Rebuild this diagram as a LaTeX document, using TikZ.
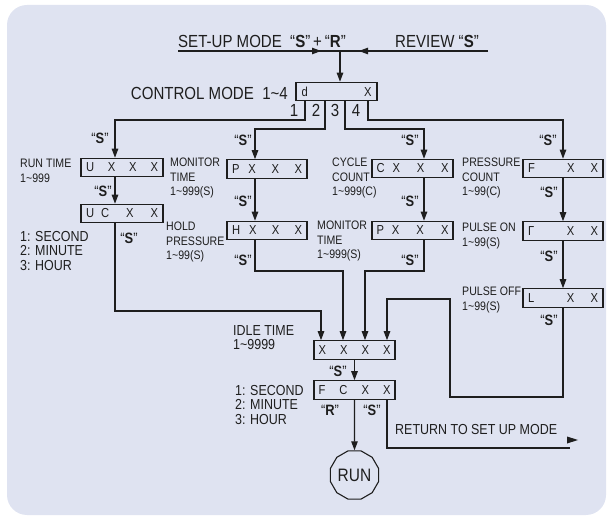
\documentclass[tikz,border=0pt]{standalone}
\usepackage{fontspec}
\setmainfont{Liberation Sans}[FakeStretch=0.86]
\usetikzlibrary{arrows.meta,shapes.geometric}
\definecolor{bg}{HTML}{DFE3F1}
\definecolor{ink}{HTML}{1E1E1E}
\newcommand\tld{\textasciitilde}
\newcommand\qS{“\textbf{S}”}
\newcommand\qR{“\textbf{R}”}
\tikzset{
  ln/.style={draw=ink, line width=1.1pt},
  arr/.style={ln, -{Triangle[length=9pt,width=6.5pt]}},
  disp/.style={draw=ink, line width=1.1pt, minimum width=81pt, minimum height=18.5pt, inner sep=0pt, font=\fontsize{13}{14}\selectfont, text=ink},
  lbl/.style={anchor=west, inner sep=0pt, align=left, font=\fontsize{12.3}{14.5}\selectfont, text=ink},
  mlbl/.style={anchor=west, inner sep=0pt, align=left, font=\fontsize{14.5}{14.8}\selectfont, text=ink},
  big/.style={inner sep=0pt, font=\fontsize{17.5}{19}\selectfont, text=ink},
  sk/.style={inner sep=0pt, font=\fontsize{15}{17}\selectfont, text=ink},
}
\begin{document}
\begin{tikzpicture}[x=1pt,y=-1pt]
\useasboundingbox (0,0) rectangle (608,521);
\fill[bg, rounded corners=20pt] (7,5) rectangle (606,515);

% top
\node[big, anchor=west] (setup) at (178,41) {SET-UP MODE\ \ \qS\,+\,\qR};
\node[big, anchor=west] (review) at (395,41) {REVIEW \qS};
\coordinate (tl) at (178,51);
\coordinate (tr) at (488,51);
\coordinate (tj) at (340,51);
\coordinate (ta) at (321,51);
\coordinate (tb) at (359,51);
\draw[ln] (tl) -- (tr);
\draw[arr] (tl) -- (ta);
\draw[arr] (tr) -- (tb);

% control box
\node[disp] (ctl) at (336.5,91.5) {\makebox[70pt]{d\hfill X}};
\node[big, anchor=east] (ctltxt) at (288,93) {CONTROL MODE\ \ 1\tld4};
\draw[arr] (tj) -- (ctl.north -| tj);
\node[big, font=\fontsize{17.5}{19}\selectfont] (n1) at (294,110) {1};
\node[big, font=\fontsize{17.5}{19}\selectfont] (n2) at (316,110) {2};
\node[big, font=\fontsize{17.5}{19}\selectfont] (n3) at (335,110) {3};
\node[big, font=\fontsize{17.5}{19}\selectfont] (n4) at (356,110) {4};

% boxes
\node[disp, minimum width=82pt] (ubox) at (122,167.5) {\makebox[72pt]{U\hfill X\hfill X\hfill X}};
\node[disp, minimum width=82pt] (ucbox) at (122,213.5) {\makebox[72pt]{U\hspace{7pt}C\hfill X\hfill X}};
\node[disp, minimum width=80pt] (pbox) at (267,169) {\makebox[70pt]{P\hspace{9pt}X\hfill X\hfill X}};
\node[disp, minimum width=80pt] (hbox) at (267,230.5) {\makebox[70pt]{H\hspace{9pt}X\hfill X\hfill X}};
\node[disp] (cbox) at (412.5,168.5) {\makebox[72pt]{C\hspace{8pt}X\hfill X\hfill X}};
\node[disp] (p2box) at (412.5,230.5) {\makebox[72pt]{P\hspace{8pt}X\hfill X\hfill X}};
\node[disp, minimum width=80pt] (fbox) at (563,168.5) {\makebox[70pt]{F\hfill\hfill X\hfill X}};
\node[disp, minimum width=80pt] (gbox) at (563,231) {\makebox[70pt]{Γ\hfill\hfill X\hfill X}};
\node[disp, minimum width=80pt] (lbox) at (563,298) {\makebox[70pt]{L\hfill\hfill X\hfill X}};
\node[disp] (idle) at (354.5,350) {\makebox[72pt]{X\hfill X\hfill X\hfill X}};
\node[disp] (fcbox) at (354.5,390) {\makebox[72pt]{F\hfill C\hfill X\hfill X}};
\node[draw=ink, line width=1.1pt, regular polygon, regular polygon sides=12, minimum size=50pt, inner sep=0pt, font=\fontsize{18}{20}\selectfont, text=ink] (run) at (354.5,475) {RUN};

% labels
\node[lbl] (lrun) at (20,171) {RUN TIME\\1\tld999};
\node[mlbl] (lunit1) at (20,251) {1: SECOND\\2: MINUTE\\3: HOUR};
\node[lbl] (lmon) at (170,178) {MONITOR\\TIME\\1\tld999(S)};
\node[lbl] (lhold) at (166,242) {HOLD\\PRESSURE\\1\tld99(S)};
\node[lbl] (lcyc) at (332,178) {CYCLE\\COUNT\\1\tld999(C)};
\node[lbl] (lmon2) at (317,241) {MONITOR\\TIME\\1\tld999(S)};
\node[lbl] (lpc) at (462,178) {PRESSURE\\COUNT\\1\tld99(C)};
\node[lbl] (lpon) at (462,236) {PULSE ON\\1\tld99(S)};
\node[lbl] (lpoff) at (462,300) {PULSE OFF\\1\tld99(S)};
\node[mlbl] (lidle) at (233,337.5) {IDLE TIME\\1\tld9999};
\node[mlbl] (lunit2) at (235,405) {1: SECOND\\2: MINUTE\\3: HOUR};
\node[mlbl, anchor=west] (lret) at (395,430) {RETURN TO SET UP MODE};

% "S" keys
\node[sk] (s1a) at (100,138) {\qS};
\node[sk] (s1b) at (103,191) {\qS};
\node[sk] (s1c) at (129,238) {\qS};
\node[sk] (s2a) at (243,140) {\qS};
\node[sk] (s2b) at (243,201) {\qS};
\node[sk] (s2c) at (243,260) {\qS};
\node[sk] (s3a) at (410,140) {\qS};
\node[sk] (s3b) at (410,201) {\qS};
\node[sk] (s3c) at (410,260) {\qS};
\node[sk] (s4a) at (548,140) {\qS};
\node[sk] (s4b) at (549,192) {\qS};
\node[sk] (s4c) at (549,256) {\qS};
\node[sk] (s4d) at (549,320) {\qS};
\node[sk] (s5) at (338,371) {\qS};
\node[sk] (kr) at (330,410) {\qR};
\node[sk] (ks) at (372,410) {\qS};

% corner coordinates
\coordinate (d1) at (305,120); \coordinate (c1) at (115,120);
\coordinate (d2) at (325,129); \coordinate (c2) at (255,129);
\coordinate (d3) at (345,129); \coordinate (c3) at (424,129);
\coordinate (d4) at (368,120); \coordinate (c4) at (563,120);
\coordinate (e1) at (115,311); \coordinate (i1) at (321,311);
\coordinate (e2) at (255,271); \coordinate (i2) at (343,271);
\coordinate (e3) at (424,271); \coordinate (i3) at (365,271);
\coordinate (e4) at (563,397); \coordinate (f4) at (450,397);
\coordinate (g4) at (450,299); \coordinate (i4) at (387,299);
\coordinate (r0) at (387,448); \coordinate (r1) at (570,448);

% column 1
\draw[arr] (ctl.south -| d1) -- (d1) -- (c1) -- (ubox.north -| c1);
\draw[arr] (ubox.south -| c1) -- (ucbox.north -| c1);
\draw[arr] (ucbox.south -| c1) -- (e1) -- (i1) -- (idle.north -| i1);
% column 2
\draw[arr] (ctl.south -| d2) -- (d2) -- (c2) -- (pbox.north -| c2);
\draw[arr] (pbox.south -| c2) -- (hbox.north -| c2);
\draw[arr] (hbox.south -| c2) -- (e2) -- (i2) -- (idle.north -| i2);
% column 3
\draw[arr] (ctl.south -| d3) -- (d3) -- (c3) -- (cbox.north -| c3);
\draw[arr] (cbox.south -| c3) -- (p2box.north -| c3);
\draw[arr] (p2box.south -| c3) -- (e3) -- (i3) -- (idle.north -| i3);
% column 4
\draw[arr] (ctl.south -| d4) -- (d4) -- (c4) -- (fbox.north -| c4);
\draw[arr] (fbox.south -| c4) -- (gbox.north -| c4);
\draw[arr] (gbox.south -| c4) -- (lbox.north -| c4);
\draw[arr] (lbox.south -| c4) -- (e4) -- (f4) -- (g4) -- (i4) -- (idle.north -| i4);
% bottom
\draw[arr] (idle.south) -- (fcbox.north);
\draw[arr] (fcbox.south) -- (run.north);
\draw[ln] (fcbox.south -| r0) -- (r0) -- (r1);
\fill[ink] (567,436.5) -- (578,440) -- (567,443.5) -- cycle;
\end{tikzpicture}
\end{document}
